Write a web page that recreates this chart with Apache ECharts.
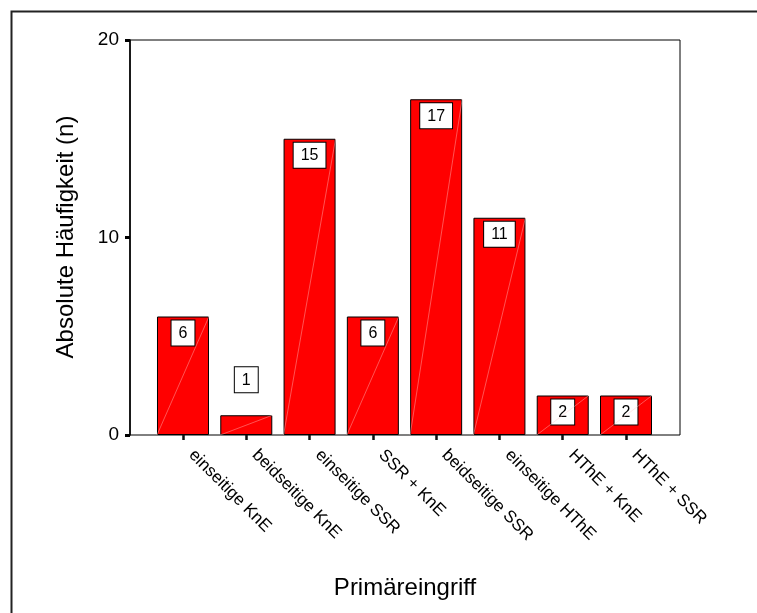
<!DOCTYPE html>
<html>
<head>
<meta charset="utf-8">
<script src="https://cdn.jsdelivr.net/npm/echarts@6/dist/echarts.min.js"></script>
<style>
html,body{margin:0;padding:0;background:#fff;}
#chart{width:757px;height:613px;}
</style>
</head>
<body>
<div id="chart"></div>
<script>
var categories = ['einseitige KnE', 'beidseitige KnE', 'einseitige SSR', 'SSR + KnE', 'beidseitige SSR', 'einseitige HThE', 'HThE + KnE', 'HThE + SSR'];
var counts = [6, 1, 15, 6, 17, 11, 2, 2];
var yTicks = [0, 10, 20];
var xTitle = 'Primäreingriff';
var yTitle = 'Absolute Häufigkeit (n)';

var FONT = "'Liberation Sans', Arial, sans-serif";
var chart = echarts.init(document.getElementById('chart'), null, {renderer: 'canvas'});

var barData = counts.map(function (v) {
  if (v < 2) {
    return {value: v, label: {position: 'top', distance: 23}};
  }
  return v;
});

var option = {
  animation: false,
  backgroundColor: '#fff',
  graphic: [
    {type: 'rect', left: 9, top: 9, shape: {width: 900, height: 800}, style: {fill: 'none', stroke: '#222', lineWidth: 2}, silent: true, z: 0},
    {type: 'text', x: 66, y: 237, rotation: Math.PI / 2, style: {text: yTitle, font: "24px " + FONT, fill: '#000', textAlign: 'center', textVerticalAlign: 'middle'}, z: 10},
    {type: 'text', x: 405, y: 588, style: {text: xTitle, font: "24px " + FONT, fill: '#000', textAlign: 'center', textVerticalAlign: 'middle'}, z: 10}
  ],
  grid: [
    {left: 130, right: 77, top: 40, bottom: 178, show: true, borderColor: '#000', borderWidth: 1, backgroundColor: 'transparent'},
    {left: 151.35, right: 99.35, top: 40, bottom: 178}
  ],
  xAxis: [
    {gridIndex: 0, type: 'value', min: 0, max: 1, show: false},
    {
      gridIndex: 1, type: 'category', data: categories,
      axisLine: {show: false},
      axisTick: {show: true, alignWithLabel: true, length: 5, lineStyle: {color: '#111', width: 2.5}},
      axisLabel: {interval: 0, rotate: -45, margin: 9, padding: [0, 0, 0, 12], fontSize: 17, fontFamily: FONT, color: '#000'},
      splitLine: {show: false}
    }
  ],
  yAxis: [
    {gridIndex: 0, type: 'value', min: 0, max: 1, show: false},
    {
      gridIndex: 1, type: 'value', min: yTicks[0], max: yTicks[yTicks.length - 1], interval: yTicks[1] - yTicks[0],
      offset: 21.35,
      axisLine: {show: true, lineStyle: {color: '#000', width: 1.6}},
      axisTick: {show: true, length: 5, lineStyle: {color: '#000', width: 3}},
      axisLabel: {fontSize: 19, fontFamily: FONT, color: '#000', margin: 11},
      splitLine: {show: false}
    }
  ],
  series: [
    {
      type: 'bar', xAxisIndex: 1, yAxisIndex: 1,
      data: barData,
      barWidth: 52,
      itemStyle: {color: '#ff0000', borderColor: '#000', borderWidth: 1},
      label: {
        show: true, position: 'insideTop', distance: 4,
        fontSize: 16, fontFamily: FONT, color: '#000',
        backgroundColor: '#fff', borderColor: '#000', borderWidth: 1,
        padding: [5, 7, 4, 7]
      },
      z: 2
    },
    {
      type: 'custom', xAxisIndex: 1, yAxisIndex: 1,
      data: counts.map(function (v, i) { return [i, v]; }),
      silent: true,
      z: 3,
      renderItem: function (params, api) {
        var top = api.coord([api.value(0), api.value(1)]);
        var base = api.coord([api.value(0), 0]);
        var half = 26;
        return {
          type: 'line',
          shape: {x1: base[0] - half, y1: base[1], x2: top[0] + half, y2: top[1]},
          style: {stroke: 'rgba(255,200,200,0.6)', lineWidth: 0.7}
        };
      }
    }
  ]
};
chart.setOption(option);
</script>
</body>
</html>
